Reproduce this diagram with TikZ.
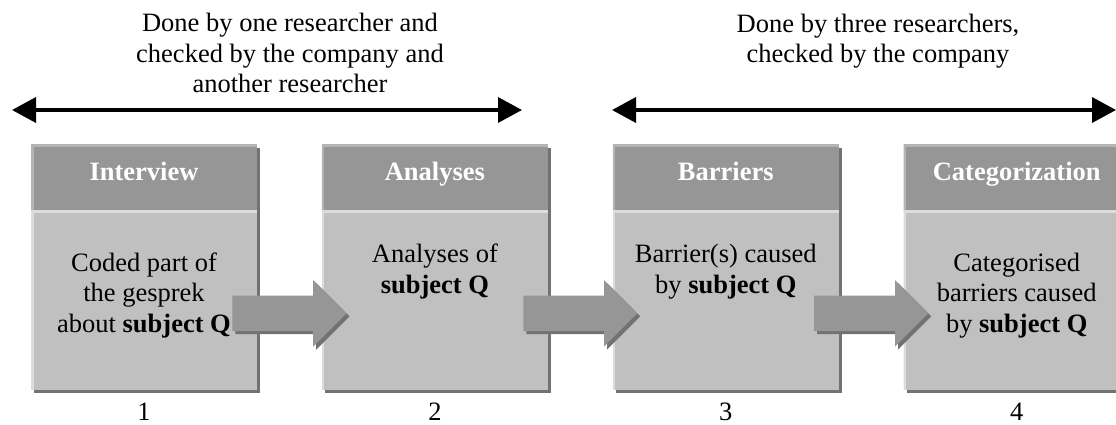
\documentclass[tikz,border=0pt]{standalone}
\usepackage{fontspec}
\setmainfont{Liberation Serif}
\usetikzlibrary{shapes.arrows, arrows.meta, positioning, shadows, calc}
\definecolor{headgray}{HTML}{969696}
\definecolor{headlight}{HTML}{B4B4B4}
\definecolor{bodygray}{HTML}{C0C0C0}
\definecolor{bodylight}{HTML}{DCDCDC}
\definecolor{shadegray}{HTML}{727272}
\newcommand{\bigtext}{\fontsize{26.5}{30.5}\selectfont}
\tikzset{bevel/.style={path picture={\draw[line width=5pt, #1] (path picture bounding box.south west) -- (path picture bounding box.north west) -- (path picture bounding box.north east);}}}
\tikzstyle{shade} = [drop shadow={shadow xshift=3pt, shadow yshift=-3pt, fill=shadegray, opacity=1}]
\tikzstyle{stage} = [rectangle, fill=headgray, text=white, font=\bigtext\bfseries, minimum width=226pt, minimum height=65pt, inner sep=0pt, text height=18pt, text depth=12pt, shade, bevel=headlight]
\tikzstyle{content} = [rectangle, fill=bodygray, minimum width=226pt, minimum height=180pt, inner sep=0pt, shade, bevel=bodylight]
\tikzstyle{desc} = [align=center, anchor=base, inner sep=0pt]
\tikzstyle{flow} = [single arrow, fill=headgray, anchor=tail, minimum height=114pt, inner xsep=0pt, inner ysep=17.5pt, single arrow head extend=15.5pt, shade]
\tikzstyle{span} = [{Triangle[length=24pt,width=25pt]}-{Triangle[length=24pt,width=25pt]}, line width=3.5pt]

\begin{document}
\begin{tikzpicture}[x=1pt, y=-1pt, font=\bigtext]
\useasboundingbox (0,0) rectangle (1116,425);
\clip (0,0) rectangle (1116,425);

% stage headers and bodies
\node[stage] (h1) at (144,177.5) {Interview};
\node[stage, right=64.5pt of h1] (h2) {Analyses};
\node[stage, right=64.5pt of h2] (h3) {Barriers};
\node[stage, right=64.5pt of h3] (h4) {Categorization};

\node[content, below=0pt of h1] (b1) {};
\node[content, below=0pt of h2] (b2) {};
\node[content, below=0pt of h3] (b3) {};
\node[content, below=0pt of h4] (b4) {};

% base anchor sits on the last line
\node[desc] (d1) at ([yshift=-122pt]b1.north) {Coded part of\\the gesprek\\about \textbf{subject Q}};
\node[desc] (d2) at ([yshift=-83pt]b2.north) {Analyses of\\\textbf{subject Q}};
\node[desc] (d3) at ([yshift=-83pt]b3.north) {Barrier(s) caused\\by \textbf{subject Q}};
\node[desc] (d4) at ([yshift=-122pt]b4.north) {Categorised\\barriers caused\\by \textbf{subject Q}};

\node[desc] (n1) at ([yshift=-30pt]b1.south) {1};
\node[desc] (n2) at ([yshift=-30pt]b2.south) {2};
\node[desc] (n3) at ([yshift=-30pt]b3.south) {3};
\node[desc] (n4) at ([yshift=-30pt]b4.south) {4};

% block arrows between stages
\node[flow] (a1) at ($(b1.east)+(-25,13)$) {};
\node[flow] (a2) at ($(b2.east)+(-25,13)$) {};
\node[flow] (a3) at ($(b3.east)+(-25,13)$) {};

% who did what
\coordinate (s1) at (12,110);
\coordinate (e1) at (522,110);
\coordinate (s2) at (612,110);
\coordinate (e2) at (1116,110);
\draw[span] (s1) -- (e1);
\draw[span] (s2) -- (e2);

\node[desc] (t1) at (290,93) {Done by one researcher and\\checked by the company and\\another researcher};
\node[desc] (t2) at (878,63) {Done by three researchers,\\checked by the company};

\end{tikzpicture}
\end{document}
